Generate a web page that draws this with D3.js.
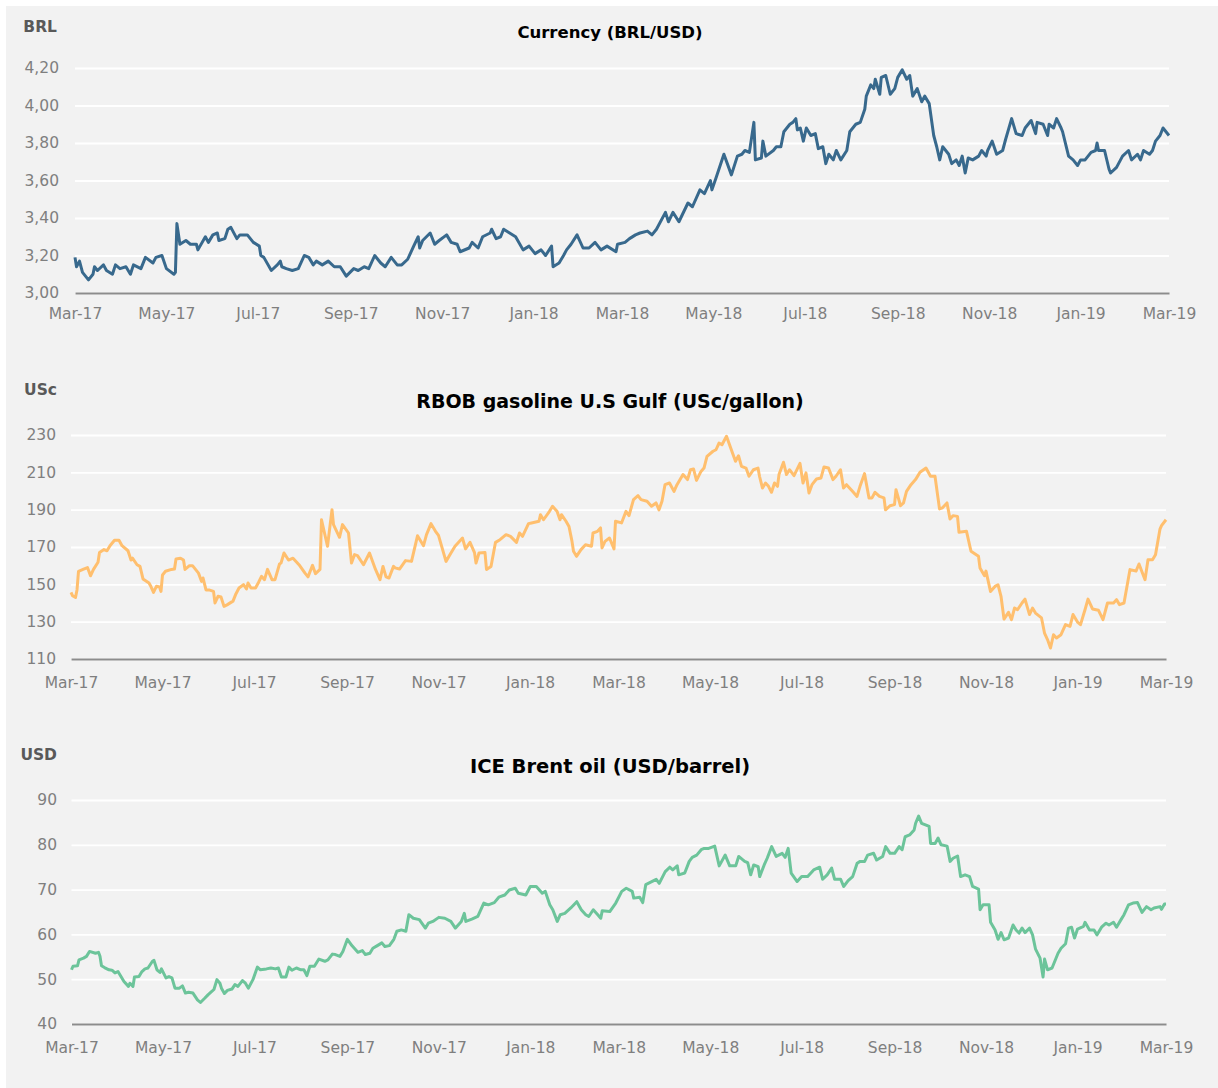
<!DOCTYPE html>
<html>
<head>
<meta charset="utf-8">
<script src="https://cdn.jsdelivr.net/npm/d3@7"></script>
<style>
  body { margin: 0; background: #fff; }
  svg { display: block; }
  text { font-family: "DejaVu Sans", Verdana, sans-serif; }
</style>
</head>
<body>
<svg id="chart" width="1218" height="1088"></svg>
<script>
// x axis labels, every second month
const monthTicks = ["2017-03-01","2017-05-01","2017-07-01","2017-09-01","2017-11-01","2018-01-01",
  "2018-03-01","2018-05-01","2018-07-01","2018-09-01","2018-11-01","2019-01-01","2019-03-01"];

// Currency BRL/USD
const brlTicks = [3.0, 3.2, 3.4, 3.6, 3.8, 4.0, 4.2];
const brlDates = ["2017-03-01","2017-03-02","2017-03-04","2017-03-06","2017-03-10","2017-03-13","2017-03-14","2017-03-16",
  "2017-03-20","2017-03-22","2017-03-26","2017-03-28","2017-03-31","2017-04-04","2017-04-07","2017-04-09","2017-04-14",
  "2017-04-17","2017-04-22","2017-04-24","2017-04-28","2017-05-01","2017-05-06","2017-05-07","2017-05-08","2017-05-10",
  "2017-05-14","2017-05-17","2017-05-21","2017-05-22","2017-05-27","2017-05-29","2017-06-01","2017-06-04","2017-06-05",
  "2017-06-09","2017-06-11","2017-06-13","2017-06-17","2017-06-19","2017-06-24","2017-06-28","2017-07-02","2017-07-03",
  "2017-07-05","2017-07-10","2017-07-14","2017-07-16","2017-07-17","2017-07-20","2017-07-24","2017-07-28","2017-08-01",
  "2017-08-04","2017-08-07","2017-08-09","2017-08-13","2017-08-17","2017-08-21","2017-08-25","2017-08-29","2017-09-03",
  "2017-09-06","2017-09-10","2017-09-13","2017-09-17","2017-09-21","2017-09-24","2017-09-28","2017-10-02","2017-10-05",
  "2017-10-09","2017-10-13","2017-10-16","2017-10-17","2017-10-19","2017-10-24","2017-10-27","2017-10-30","2017-11-04",
  "2017-11-07","2017-11-11","2017-11-13","2017-11-19","2017-11-21","2017-11-25","2017-11-28","2017-12-03","2017-12-04",
  "2017-12-07","2017-12-10","2017-12-12","2017-12-16","2017-12-20","2017-12-25","2017-12-29","2018-01-02","2018-01-06",
  "2018-01-09","2018-01-13","2018-01-14","2018-01-18","2018-01-21","2018-01-23","2018-01-26","2018-01-30","2018-02-03",
  "2018-02-07","2018-02-11","2018-02-15","2018-02-19","2018-02-25","2018-02-26","2018-03-03","2018-03-06","2018-03-10",
  "2018-03-13","2018-03-18","2018-03-21","2018-03-24","2018-03-30","2018-04-01","2018-04-04","2018-04-08","2018-04-14",
  "2018-04-17","2018-04-22","2018-04-25","2018-04-29","2018-04-30","2018-05-03","2018-05-08","2018-05-13","2018-05-17",
  "2018-05-20","2018-05-22","2018-05-25","2018-05-28","2018-05-29","2018-06-02","2018-06-03","2018-06-05","2018-06-10",
  "2018-06-12","2018-06-15","2018-06-17","2018-06-21","2018-06-23","2018-06-25","2018-06-26","2018-06-28","2018-06-30",
  "2018-07-02","2018-07-05","2018-07-08","2018-07-10","2018-07-13","2018-07-15","2018-07-17","2018-07-20","2018-07-22",
  "2018-07-25","2018-07-29","2018-07-31","2018-08-04","2018-08-07","2018-08-10","2018-08-11","2018-08-14","2018-08-16",
  "2018-08-17","2018-08-20","2018-08-21","2018-08-24","2018-08-27","2018-08-30","2018-09-01","2018-09-04","2018-09-07",
  "2018-09-09","2018-09-11","2018-09-14","2018-09-17","2018-09-19","2018-09-22","2018-09-25","2018-09-27","2018-09-29",
  "2018-10-01","2018-10-05","2018-10-07","2018-10-10","2018-10-12","2018-10-14","2018-10-16","2018-10-18","2018-10-21",
  "2018-10-25","2018-10-27","2018-10-30","2018-10-31","2018-11-03","2018-11-06","2018-11-10","2018-11-12","2018-11-16",
  "2018-11-19","2018-11-23","2018-11-25","2018-11-29","2018-12-02","2018-12-03","2018-12-07","2018-12-10","2018-12-11",
  "2018-12-14","2018-12-16","2018-12-19","2018-12-20","2018-12-24","2018-12-27","2018-12-30","2019-01-01","2019-01-04",
  "2019-01-08","2019-01-11","2019-01-12","2019-01-13","2019-01-17","2019-01-20","2019-01-21","2019-01-25","2019-01-29",
  "2019-02-02","2019-02-04","2019-02-08","2019-02-10","2019-02-12","2019-02-16","2019-02-18","2019-02-20","2019-02-23",
  "2019-02-25","2019-03-01"];
const brlValues = [3.19,3.14,3.17,3.11,3.07,3.10,3.14,3.12,
  3.15,3.12,3.10,3.15,3.13,3.14,3.10,3.15,3.13,
  3.19,3.16,3.19,3.20,3.13,3.10,3.11,3.37,3.26,
  3.28,3.26,3.26,3.23,3.30,3.27,3.31,3.32,3.28,
  3.29,3.34,3.35,3.29,3.31,3.31,3.27,3.25,3.20,
  3.19,3.12,3.15,3.17,3.14,3.13,3.12,3.13,3.20,
  3.19,3.15,3.17,3.15,3.17,3.14,3.14,3.09,3.13,
  3.12,3.14,3.13,3.20,3.16,3.14,3.19,3.15,3.15,
  3.18,3.25,3.30,3.24,3.28,3.32,3.26,3.28,3.31,
  3.27,3.26,3.22,3.24,3.27,3.24,3.30,3.32,3.34,
  3.29,3.30,3.34,3.32,3.30,3.23,3.25,3.21,3.23,
  3.20,3.25,3.14,3.16,3.20,3.23,3.26,3.31,3.24,
  3.24,3.27,3.23,3.25,3.22,3.26,3.27,3.29,3.31,
  3.32,3.33,3.31,3.34,3.43,3.38,3.43,3.38,3.48,
  3.46,3.55,3.53,3.60,3.55,3.62,3.74,3.63,3.73,
  3.74,3.76,3.75,3.91,3.71,3.72,3.81,3.73,3.76,
  3.78,3.78,3.86,3.90,3.91,3.93,3.87,3.88,3.81,
  3.88,3.84,3.85,3.77,3.78,3.69,3.74,3.71,3.76,
  3.71,3.76,3.86,3.90,3.91,3.98,4.05,4.11,4.09,
  4.14,4.06,4.15,4.16,4.06,4.09,4.15,4.19,4.14,
  4.16,4.05,4.09,4.02,4.05,4.01,3.84,3.78,3.71,
  3.78,3.74,3.69,3.71,3.68,3.73,3.64,3.72,3.71,
  3.73,3.76,3.73,3.76,3.81,3.74,3.76,3.82,3.93,
  3.85,3.84,3.88,3.92,3.85,3.91,3.90,3.84,3.90,
  3.88,3.93,3.88,3.86,3.73,3.71,3.68,3.71,3.71,
  3.75,3.76,3.80,3.76,3.76,3.66,3.64,3.67,3.73,
  3.76,3.71,3.74,3.71,3.76,3.74,3.76,3.81,3.84,
  3.88,3.84];

// RBOB gasoline U.S Gulf, USc/gallon
const rbobTicks = [110, 130, 150, 170, 190, 210, 230];
const rbobDates = ["2017-03-01","2017-03-02","2017-03-04","2017-03-05","2017-03-06","2017-03-09","2017-03-12","2017-03-14",
  "2017-03-16","2017-03-19","2017-03-20","2017-03-23","2017-03-25","2017-03-27","2017-03-30","2017-04-02","2017-04-04",
  "2017-04-08","2017-04-10","2017-04-11","2017-04-14","2017-04-16","2017-04-18","2017-04-22","2017-04-23","2017-04-25",
  "2017-04-27","2017-04-29","2017-04-30","2017-05-01","2017-05-03","2017-05-07","2017-05-09","2017-05-10","2017-05-13",
  "2017-05-15","2017-05-16","2017-05-19","2017-05-21","2017-05-25","2017-05-27","2017-05-28","2017-05-30","2017-06-01",
  "2017-06-04","2017-06-05","2017-06-07","2017-06-09","2017-06-11","2017-06-13","2017-06-17","2017-06-19","2017-06-21",
  "2017-06-24","2017-06-26","2017-06-27","2017-06-29","2017-07-02","2017-07-04","2017-07-06","2017-07-08","2017-07-10",
  "2017-07-13","2017-07-15","2017-07-18","2017-07-19","2017-07-21","2017-07-24","2017-07-27","2017-07-31","2017-08-04",
  "2017-08-06","2017-08-09","2017-08-11","2017-08-14","2017-08-15","2017-08-19","2017-08-22","2017-08-23","2017-08-27",
  "2017-08-29","2017-09-02","2017-09-04","2017-09-06","2017-09-08","2017-09-12","2017-09-16","2017-09-20","2017-09-23",
  "2017-09-25","2017-09-27","2017-09-29","2017-10-02","2017-10-03","2017-10-06","2017-10-10","2017-10-14","2017-10-18",
  "2017-10-22","2017-10-24","2017-10-27","2017-10-30","2017-11-01","2017-11-06","2017-11-09","2017-11-12","2017-11-17",
  "2017-11-19","2017-11-22","2017-11-25","2017-11-26","2017-11-28","2017-12-02","2017-12-03","2017-12-06","2017-12-09",
  "2017-12-12","2017-12-16","2017-12-19","2017-12-23","2017-12-25","2017-12-27","2017-12-31","2018-01-02","2018-01-07",
  "2018-01-08","2018-01-10","2018-01-14","2018-01-16","2018-01-19","2018-01-21","2018-01-22","2018-01-25","2018-01-27",
  "2018-01-29","2018-01-30","2018-02-01","2018-02-04","2018-02-07","2018-02-11","2018-02-12","2018-02-15","2018-02-17",
  "2018-02-18","2018-02-20","2018-02-23","2018-02-26","2018-02-27","2018-03-03","2018-03-06","2018-03-08","2018-03-11",
  "2018-03-14","2018-03-16","2018-03-20","2018-03-23","2018-03-26","2018-03-28","2018-03-30","2018-04-01","2018-04-04",
  "2018-04-07","2018-04-09","2018-04-13","2018-04-16","2018-04-18","2018-04-20","2018-04-22","2018-04-25","2018-04-27",
  "2018-04-29","2018-05-03","2018-05-05","2018-05-07","2018-05-09","2018-05-12","2018-05-16","2018-05-18","2018-05-20",
  "2018-05-22","2018-05-25","2018-05-27","2018-05-30","2018-06-02","2018-06-03","2018-06-05","2018-06-07","2018-06-09",
  "2018-06-11","2018-06-13","2018-06-15","2018-06-16","2018-06-19","2018-06-21","2018-06-23","2018-06-26","2018-06-30",
  "2018-07-02","2018-07-04","2018-07-06","2018-07-08","2018-07-11","2018-07-14","2018-07-16","2018-07-19","2018-07-22",
  "2018-07-24","2018-07-27","2018-07-29","2018-07-31","2018-08-04","2018-08-07","2018-08-09","2018-08-12","2018-08-15",
  "2018-08-17","2018-08-19","2018-08-22","2018-08-25","2018-08-26","2018-08-29","2018-09-01","2018-09-02","2018-09-05",
  "2018-09-07","2018-09-09","2018-09-12","2018-09-15","2018-09-18","2018-09-22","2018-09-25","2018-09-28","2018-10-01",
  "2018-10-03","2018-10-06","2018-10-08","2018-10-10","2018-10-13","2018-10-14","2018-10-19","2018-10-22","2018-10-27",
  "2018-10-28","2018-10-31","2018-11-01","2018-11-04","2018-11-07","2018-11-09","2018-11-11","2018-11-13","2018-11-16",
  "2018-11-18","2018-11-20","2018-11-22","2018-11-25","2018-11-27","2018-11-30","2018-12-02","2018-12-04","2018-12-08",
  "2018-12-10","2018-12-12","2018-12-14","2018-12-16","2018-12-18","2018-12-21","2018-12-24","2018-12-27","2018-12-29",
  "2019-01-01","2019-01-03","2019-01-06","2019-01-08","2019-01-11","2019-01-15","2019-01-18","2019-01-21","2019-01-25",
  "2019-01-27","2019-01-29","2019-02-01","2019-02-05","2019-02-09","2019-02-11","2019-02-15","2019-02-17","2019-02-20",
  "2019-02-22","2019-02-25","2019-02-26","2019-03-01"];
const rbobValues = [145.7,143.9,143,147,157,158,159,154.6,
  158,161.8,167,168.6,168,170.7,173.6,173.6,170.7,
  168,163,164,160.5,159.6,152.9,150.7,149.3,145.7,
  149,148.6,146.2,155,157,158,158.2,163.6,164,
  163,158,160,160,156,151.6,153.4,147,147,
  146.2,140,143.6,143.2,138.2,139,141,145,148,
  149.8,147.5,150.7,148,148,151,154.3,152.5,158,
  152.5,152.5,160.9,161.4,166.8,163,164,160.5,156,
  154,160.2,155.7,158,184.6,170.4,190,182,175.2,
  182,177.5,161.4,165.9,165.4,160.5,166.8,158,152.5,
  159.6,154,153.4,159.6,158.8,158.2,162.7,162.3,176,
  170.7,176.6,182.5,178.4,176.2,162.3,166.4,170.4,174.8,
  169,172.5,167,161.4,166.8,167,158,159.6,172.5,
  173.9,176.6,175.7,172.5,177.5,175.7,182.5,182.9,183.8,
  187.3,184.6,189.1,191.8,189.1,184.6,187.3,183.8,181,
  173,167.7,165,168.6,171.2,170.4,177.5,178.4,180.2,
  169.5,173,174.8,169,183.8,182.9,189.1,186.8,195.4,
  197.5,195.4,194.5,191.8,193.6,189.9,194.5,203.4,204.3,
  199.8,203.4,208.8,206.1,211.4,211.8,205.7,210.5,212.3,
  218.6,221.3,222.1,225.7,224.8,229.3,220.4,215.9,218.9,
  213.2,212.3,207.9,211.4,212.3,207.9,201.6,204.3,202.5,
  199.3,204.3,202.5,208.8,215.4,208.8,211.4,208.2,214.8,
  204.3,209.7,198.9,203.4,206.4,207,212.9,212.3,206.1,
  207.9,211.4,201.6,203.4,199.8,197.1,202.5,209.3,196.3,
  196.3,199.3,197.1,196.3,189.9,192.1,192.7,200.7,192.1,
  193.6,199.8,203.4,206.1,210,212.3,207.9,207.9,190.4,
  191,193.6,185,186.8,186.4,177.9,178.4,167.7,165,
  158.8,154.6,157.1,146.2,148.9,149.8,143.6,131.4,135,
  131.1,137.3,136.4,140,142.1,133.8,137.3,134.6,132,
  123.9,120.4,115.9,123,121.3,123,128.4,127.5,133.8,
  129.8,128.4,136.4,142.1,136.8,136.1,131.1,140,140,
  141.8,139.1,140,157.9,157.1,160.9,152.5,163.2,163.2,
  165.9,179.6,181.4,184.6];

// ICE Brent oil, USD/barrel
const brentTicks = [40, 50, 60, 70, 80, 90];
const brentDates = ["2017-03-01","2017-03-02","2017-03-05","2017-03-06","2017-03-09","2017-03-11","2017-03-13","2017-03-17",
  "2017-03-19","2017-03-20","2017-03-21","2017-03-23","2017-03-26","2017-03-28","2017-03-30","2017-04-01","2017-04-03",
  "2017-04-05","2017-04-08","2017-04-09","2017-04-11","2017-04-12","2017-04-15","2017-04-17","2017-04-19","2017-04-21",
  "2017-04-24","2017-04-25","2017-04-27","2017-04-29","2017-04-30","2017-05-03","2017-05-05","2017-05-07","2017-05-09",
  "2017-05-12","2017-05-14","2017-05-16","2017-05-18","2017-05-21","2017-05-24","2017-05-26","2017-05-29","2017-05-31",
  "2017-06-02","2017-06-04","2017-06-06","2017-06-08","2017-06-09","2017-06-11","2017-06-13","2017-06-16","2017-06-18",
  "2017-06-20","2017-06-23","2017-06-25","2017-06-27","2017-06-30","2017-07-03","2017-07-05","2017-07-09","2017-07-12",
  "2017-07-15","2017-07-17","2017-07-19","2017-07-22","2017-07-24","2017-07-26","2017-07-29","2017-08-01","2017-08-03",
  "2017-08-05","2017-08-07","2017-08-10","2017-08-13","2017-08-17","2017-08-19","2017-08-22","2017-08-24","2017-08-27",
  "2017-08-29","2017-09-01","2017-09-04","2017-09-08","2017-09-11","2017-09-13","2017-09-16","2017-09-18","2017-09-21",
  "2017-09-24","2017-09-26","2017-09-29","2017-10-02","2017-10-04","2017-10-07","2017-10-10","2017-10-12","2017-10-15",
  "2017-10-19","2017-10-23","2017-10-25","2017-10-28","2017-11-01","2017-11-05","2017-11-09","2017-11-12","2017-11-16",
  "2017-11-18","2017-11-19","2017-11-23","2017-11-27","2017-12-01","2017-12-04","2017-12-08","2017-12-11","2017-12-15",
  "2017-12-18","2017-12-22","2017-12-24","2017-12-29","2018-01-01","2018-01-05","2018-01-09","2018-01-11","2018-01-14",
  "2018-01-16","2018-01-19","2018-01-21","2018-01-24","2018-01-28","2018-02-01","2018-02-04","2018-02-07","2018-02-09",
  "2018-02-12","2018-02-15","2018-02-17","2018-02-18","2018-02-23","2018-02-27","2018-03-03","2018-03-06","2018-03-10",
  "2018-03-11","2018-03-15","2018-03-17","2018-03-19","2018-03-22","2018-03-26","2018-03-28","2018-04-01","2018-04-04",
  "2018-04-06","2018-04-09","2018-04-10","2018-04-14","2018-04-17","2018-04-19","2018-04-22","2018-04-25","2018-04-27",
  "2018-04-30","2018-05-04","2018-05-07","2018-05-11","2018-05-14","2018-05-18","2018-05-20","2018-05-24","2018-05-26",
  "2018-05-28","2018-05-30","2018-06-02","2018-06-03","2018-06-06","2018-06-08","2018-06-11","2018-06-14","2018-06-18",
  "2018-06-20","2018-06-22","2018-06-24","2018-06-28","2018-07-01","2018-07-05","2018-07-09","2018-07-13","2018-07-15",
  "2018-07-18","2018-07-21","2018-07-23","2018-07-27","2018-07-29","2018-08-01","2018-08-04","2018-08-07","2018-08-09",
  "2018-08-12","2018-08-14","2018-08-18","2018-08-20","2018-08-24","2018-08-26","2018-08-29","2018-09-01","2018-09-04",
  "2018-09-06","2018-09-08","2018-09-11","2018-09-14","2018-09-15","2018-09-17","2018-09-19","2018-09-22","2018-09-24",
  "2018-09-25","2018-09-28","2018-09-30","2018-10-02","2018-10-06","2018-10-08","2018-10-10","2018-10-13","2018-10-15",
  "2018-10-18","2018-10-21","2018-10-23","2018-10-27","2018-10-28","2018-10-30","2018-11-03","2018-11-04","2018-11-07",
  "2018-11-09","2018-11-11","2018-11-13","2018-11-16","2018-11-19","2018-11-21","2018-11-23","2018-11-25","2018-11-27",
  "2018-11-30","2018-12-02","2018-12-04","2018-12-07","2018-12-09","2018-12-10","2018-12-12","2018-12-15","2018-12-19",
  "2018-12-21","2018-12-24","2018-12-26","2018-12-28","2018-12-30","2019-01-01","2019-01-05","2019-01-06","2019-01-09",
  "2019-01-12","2019-01-14","2019-01-17","2019-01-20","2019-01-22","2019-01-25","2019-01-27","2019-01-30","2019-02-01",
  "2019-02-04","2019-02-07","2019-02-10","2019-02-13","2019-02-16","2019-02-19","2019-02-21","2019-02-25","2019-02-26",
  "2019-02-28","2019-03-01"];
const brentValues = [52.1,52.9,53,54.3,54.7,55.1,56.2,55.8,
  56,55.1,53,52.6,52.1,52,51.4,51.7,50.6,
  49.5,48.4,49.1,48.4,50.5,50.6,51.7,52.3,52.5,
  54,54.2,52.1,51.5,52.3,50.3,50.6,50.3,48,
  48,48.5,46.9,47.1,46.9,45.4,44.8,45.8,46.5,
  47.1,47.7,49.9,49.1,48,46.8,47.5,47.8,48.8,
  48.4,49.7,49.1,48,49.9,52.7,52.1,52.3,52.5,
  52.3,52.5,50.5,50.5,52.7,52,52.5,52.1,52.1,
  50.8,52.9,52.9,54.5,54,54.3,55.6,55.5,55.1,
  56.2,58.9,57.5,56,56.4,55.5,55.8,56.9,57.5,
  58.1,57.3,57.5,58.9,60.7,61,60.7,64.4,63.6,
  63.3,61.4,62.5,62.9,63.8,63.6,62.9,61.4,62.9,
  64.7,62.9,63.4,64,67,66.6,67.1,68.3,68.8,
  69.9,70.3,69.2,68.8,70.7,70.7,69.2,69.6,66.6,
  65.5,62.9,64.4,64.7,65.9,67.3,65.5,64.4,64,
  65.5,64.4,63.6,65.3,65.1,67,69.6,70.3,69.6,
  68.1,68.3,67.1,71.1,71.6,72.3,71.4,74,75,
  74.4,75.3,73.3,73.7,76.3,77.2,77.7,78.9,79.2,
  79.2,79.7,75.3,77.7,75.3,75.3,77.4,76.3,76,
  73.3,75.5,75.1,72.9,75.5,77,79.6,77.4,78.1,
  77.2,79.2,73.7,71.8,72.9,72.9,74.4,75,72.3,
  73.3,74.8,72.3,72.3,70.7,72,72.9,75.9,76.3,
  76.3,77.7,78.1,76.6,77.4,79.6,78.1,78.1,79.6,
  78.9,81.8,82.2,83.3,84.8,86.4,84.8,84.4,84.1,
  80.3,80.3,81.5,80,79.7,76.3,77,77.5,72.9,
  73.3,72.9,70.7,70.1,65.5,66.6,66.6,62.7,61,
  58.9,60.4,58.8,59.2,62.1,61,60.3,61.4,60.4,
  61.4,59.9,56.7,54.7,50.5,54.5,52.1,52.5,55.8,
  56.9,57.9,61.4,61.6,59.2,61.2,61.8,62.7,61,
  61,59.9,61.6,62.5,62.1,62.7,61.6,63.3,64.4,
  66.6,67,67.1,64.9,66.2,65.5,65.9,66.2,65.6,
  66.8,66.8];

const parseDate = d3.timeParse("%Y-%m-%d");
const monthFmt = d3.timeFormat("%b-%y");
const ptBR = d3.formatLocale({ decimal: ",", thousands: ".", grouping: [3], currency: ["", ""] });

const svg = d3.select("#chart");

svg.append("rect")
  .attr("x", 6).attr("y", 6)
  .attr("width", 1212).attr("height", 1082)
  .attr("fill", "#f2f2f2");

function drawPanel(p) {
  const data = p.dates.map((d, i) => ({ date: parseDate(d), value: p.values[i] }));

  const x = d3.scaleTime()
    .domain([parseDate(monthTicks[0]), parseDate(monthTicks[monthTicks.length - 1])])
    .range([p.left, p.right]);
  const y = d3.scaleLinear().domain(d3.extent(p.ticks)).range([p.bottom, p.top]);

  const g = svg.append("g");

  // grid + y labels
  const gy = g.append("g")
    .attr("transform", "translate(" + p.left + ",0)")
    .call(d3.axisLeft(y).tickValues(p.ticks).tickSize(-(p.right - p.left))
      .tickPadding(p.left - p.labelRight).tickFormat(p.format));
  gy.select(".domain").remove();
  gy.selectAll("line").attr("stroke", "#ffffff").attr("stroke-width", 1.8);
  gy.selectAll("text").attr("fill", "#7f7f7f").style("font-size", "15.5px");

  // x axis
  const gx = g.append("g")
    .attr("transform", "translate(0," + p.bottom + ")")
    .call(d3.axisBottom(x).tickValues(monthTicks.map(parseDate)).tickSize(0)
      .tickPadding(p.xPad).tickFormat(monthFmt));
  gx.select(".domain").attr("stroke", "#8c8c8c").attr("stroke-width", 2);
  gx.selectAll("text").attr("fill", "#7f7f7f").style("font-size", "15.5px");

  // unit label and title
  g.append("text")
    .attr("x", 57).attr("y", p.unitY)
    .attr("text-anchor", "end")
    .attr("fill", "#595959")
    .style("font-size", "15.5px").style("font-weight", "bold")
    .text(p.unit);
  g.append("text")
    .attr("x", 610).attr("y", p.titleY)
    .attr("text-anchor", "middle")
    .attr("fill", "#000")
    .style("font-size", p.titleSize + "px").style("font-weight", "bold")
    .text(p.title);

  const line = d3.line().x(d => x(d.date)).y(d => y(d.value));
  g.append("path")
    .datum(data)
    .attr("fill", "none")
    .attr("stroke", p.color)
    .attr("stroke-width", 3)
    .attr("stroke-linejoin", "round")
    .attr("d", line);
}

drawPanel({
  dates: brlDates, values: brlValues, ticks: brlTicks, format: ptBR.format(".2f"),
  left: 75, right: 1169, top: 68, bottom: 293, labelRight: 59, xPad: 15,
  unit: "BRL", unitY: 32, title: "Currency (BRL/USD)", titleY: 38, titleSize: 16.5,
  color: "#38698d"
});

drawPanel({
  dates: rbobDates, values: rbobValues, ticks: rbobTicks, format: d3.format("d"),
  left: 71, right: 1166, top: 435, bottom: 659, labelRight: 56, xPad: 18,
  unit: "USc", unitY: 395, title: "RBOB gasoline U.S Gulf (USc/gallon)", titleY: 407.5, titleSize: 19,
  color: "#ffbf6e"
});

drawPanel({
  dates: brentDates, values: brentValues, ticks: brentTicks, format: d3.format("d"),
  left: 71.5, right: 1166, top: 800, bottom: 1024, labelRight: 57, xPad: 17.5,
  unit: "USD", unitY: 760, title: "ICE Brent oil (USD/barrel)", titleY: 772.5, titleSize: 19.5,
  color: "#6cc49a"
});
</script>
</body>
</html>
